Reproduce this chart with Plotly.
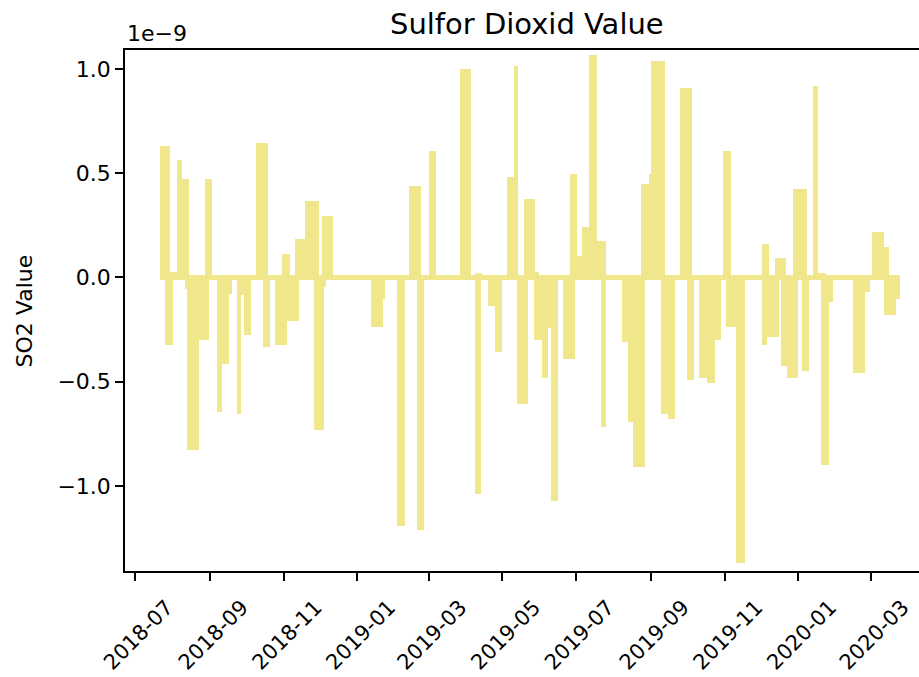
import pandas as pd
import plotly.graph_objects as go

# SO2 readings: each bar covers [bar_start, bar_end) with one value
bar_start = [
    "2018-07-22", "2018-07-22", "2018-07-26", "2018-07-30", "2018-08-01", "2018-08-05",
    "2018-08-09", "2018-08-11", "2018-08-13", "2018-08-15", "2018-08-23", "2018-08-28",
    "2018-08-31", "2018-09-03", "2018-09-07", "2018-09-11", "2018-09-17", "2018-09-19",
    "2018-09-23", "2018-09-27", "2018-09-29", "2018-10-05", "2018-10-09", "2018-10-15",
    "2018-10-19", "2018-10-21", "2018-10-25", "2018-10-31", "2018-11-04", "2018-11-06",
    "2018-11-10", "2018-11-14", "2018-11-19", "2018-11-26", "2018-11-30", "2018-12-03",
    "2018-12-04", "2018-12-06", "2018-12-12", "2019-01-12", "2019-01-22", "2019-01-24",
    "2019-02-03", "2019-02-09", "2019-02-13", "2019-02-19", "2019-02-23", "2019-02-25",
    "2019-03-01", "2019-03-07", "2019-03-27", "2019-04-05", "2019-04-08", "2019-04-08",
    "2019-04-13", "2019-04-14", "2019-04-19", "2019-04-25", "2019-05-01", "2019-05-05",
    "2019-05-11", "2019-05-13", "2019-05-14", "2019-05-19", "2019-05-22", "2019-05-27",
    "2019-05-28", "2019-05-31", "2019-06-03", "2019-06-08", "2019-06-10", "2019-06-16",
    "2019-06-20", "2019-06-26", "2019-06-30", "2019-07-02", "2019-07-06", "2019-07-12",
    "2019-07-18", "2019-07-22", "2019-07-26", "2019-07-26", "2019-08-08", "2019-08-13",
    "2019-08-17", "2019-08-24", "2019-08-27", "2019-08-30", "2019-09-01", "2019-09-09",
    "2019-09-13", "2019-09-15", "2019-09-21", "2019-09-25", "2019-10-01", "2019-10-05",
    "2019-10-07", "2019-10-11", "2019-10-17", "2019-10-24", "2019-10-29", "2019-10-31",
    "2019-11-02", "2019-11-06", "2019-11-10", "2019-11-18", "2019-12-02", "2019-12-02",
    "2019-12-06", "2019-12-08", "2019-12-13", "2019-12-16", "2019-12-18", "2019-12-22",
    "2019-12-23", "2019-12-28", "2020-01-01", "2020-01-04", "2020-01-08", "2020-01-10",
    "2020-01-13", "2020-01-17", "2020-01-20", "2020-01-24", "2020-01-26", "2020-01-30",
    "2020-02-15", "2020-02-25", "2020-02-29", "2020-03-02", "2020-03-12", "2020-03-12",
    "2020-03-16", "2020-03-22",
]
bar_end = [
    "2018-07-30", "2018-07-26", "2018-08-01", "2018-08-05", "2018-08-11", "2018-08-09",
    "2018-08-15", "2018-08-13", "2018-08-23", "2018-08-28", "2018-08-31", "2018-09-03",
    "2018-09-07", "2018-10-09", "2018-09-11", "2018-09-17", "2018-09-19", "2018-09-23",
    "2018-09-27", "2018-09-29", "2018-10-05", "2018-10-15", "2018-10-19", "2018-10-21",
    "2018-10-31", "2018-10-25", "2018-11-04", "2018-11-06", "2018-11-14", "2018-11-10",
    "2018-11-19", "2018-11-26", "2018-11-30", "2018-12-04", "2018-12-03", "2018-12-12",
    "2018-12-06", "2019-01-12", "2019-02-13", "2019-01-22", "2019-01-24", "2019-02-03",
    "2019-02-09", "2019-02-19", "2019-02-23", "2019-02-25", "2019-03-01", "2019-04-08",
    "2019-03-07", "2019-03-27", "2019-04-05", "2019-04-08", "2019-04-14", "2019-04-13",
    "2019-04-19", "2019-05-05", "2019-04-25", "2019-05-01", "2019-05-13", "2019-05-11",
    "2019-05-14", "2019-05-22", "2019-05-19", "2019-05-28", "2019-05-27", "2019-06-03",
    "2019-05-31", "2019-06-26", "2019-06-08", "2019-06-10", "2019-06-16", "2019-06-20",
    "2019-06-30", "2019-07-02", "2019-07-22", "2019-07-06", "2019-07-12", "2019-07-18",
    "2019-07-26", "2019-07-26", "2019-08-24", "2019-08-08", "2019-08-13", "2019-08-17",
    "2019-08-27", "2019-08-30", "2019-09-09", "2019-09-01", "2019-09-13", "2019-09-15",
    "2019-09-25", "2019-09-21", "2019-10-01", "2019-10-05", "2019-10-07", "2019-10-31",
    "2019-10-11", "2019-10-17", "2019-10-24", "2019-10-29", "2019-11-02", "2019-11-06",
    "2019-11-10", "2019-12-02", "2019-11-18", "2019-12-02", "2019-12-08", "2019-12-06",
    "2019-12-16", "2019-12-13", "2019-12-22", "2019-12-18", "2019-12-23", "2019-12-28",
    "2020-01-01", "2020-01-08", "2020-01-04", "2020-01-10", "2020-01-13", "2020-01-20",
    "2020-01-17", "2020-01-24", "2020-01-26", "2020-03-02", "2020-01-30", "2020-02-15",
    "2020-02-25", "2020-02-29", "2020-03-12", "2020-03-12", "2020-03-16", "2020-03-22",
    "2020-03-25", "2020-03-25",
]
so2_value = [
    0.632e-9, -0.011e-9, -0.323e-9, 0.025e-9, -0.011e-9, 0.564e-9,
    0.473e-9, -0.056e-9, -0.829e-9, 0.012e-9, -0.299e-9, 0.473e-9,
    -0.011e-9, 0.012e-9, -0.644e-9, -0.413e-9, -0.080e-9, -0.011e-9,
    -0.655e-9, -0.084e-9, -0.276e-9, -0.011e-9, 0.644e-9, -0.332e-9,
    0.012e-9, -0.011e-9, -0.323e-9, 0.115e-9, -0.207e-9, 0.012e-9,
    0.184e-9, -0.011e-9, 0.367e-9, -0.734e-9, 0.012e-9, 0.297e-9,
    -0.045e-9, -0.011e-9, 0.012e-9, -0.239e-9, -0.102e-9, -0.011e-9,
    -1.195e-9, -0.011e-9, 0.438e-9, -1.210e-9, 0.012e-9, -0.011e-9,
    0.608e-9, 0.012e-9, 1.001e-9, 0.012e-9, 0.022e-9, -1.037e-9,
    -0.011e-9, 0.012e-9, -0.137e-9, -0.356e-9, -0.011e-9, 0.482e-9,
    1.013e-9, -0.607e-9, 0.012e-9, 0.378e-9, -0.011e-9, -0.299e-9,
    0.025e-9, 0.012e-9, -0.483e-9, -0.243e-9, -1.072e-9, -0.011e-9,
    -0.392e-9, 0.495e-9, -0.011e-9, 0.103e-9, 0.240e-9, 1.070e-9,
    0.174e-9, -0.716e-9, 0.012e-9, -0.011e-9, -0.312e-9, -0.693e-9,
    -0.910e-9, 0.449e-9, -0.011e-9, 0.495e-9, 1.037e-9, -0.655e-9,
    0.012e-9, -0.680e-9, -0.011e-9, 0.911e-9, -0.494e-9, 0.012e-9,
    -0.011e-9, -0.483e-9, -0.505e-9, -0.299e-9, -0.011e-9, 0.608e-9,
    -0.239e-9, 0.012e-9, -1.369e-9, -0.011e-9, 0.159e-9, -0.323e-9,
    -0.286e-9, 0.012e-9, 0.093e-9, -0.011e-9, -0.425e-9, 0.012e-9,
    -0.483e-9, 0.425e-9, -0.011e-9, -0.448e-9, 0.012e-9, -0.011e-9,
    0.921e-9, 0.022e-9, -0.898e-9, 0.012e-9, -0.116e-9, -0.011e-9,
    -0.458e-9, -0.069e-9, -0.011e-9, 0.219e-9, 0.146e-9, -0.181e-9,
    0.012e-9, -0.102e-9,
]

x_tick_dates = ["2018-07-01", "2018-09-01", "2018-11-01", "2019-01-01", "2019-03-01",
                "2019-05-01", "2019-07-01", "2019-09-01", "2019-11-01", "2020-01-01",
                "2020-03-01"]
y_tick_vals = [-1.0e-9, -0.5e-9, 0.0, 0.5e-9, 1.0e-9]
y_tick_text = ["\u22121.0", "\u22120.5", "0.0", "0.5", "1.0"]

start = pd.to_datetime(pd.Series(bar_start))
end = pd.to_datetime(pd.Series(bar_end))
centers = start + (end - start) / 2
widths_ms = ((end - start).dt.total_seconds() * 1000).tolist()

FONT = "DejaVu Sans, Verdana, sans-serif"
AXIS_COLOR = "#000000"

fig = go.Figure(
    go.Bar(
        x=centers,
        y=so2_value,
        width=widths_ms,
        marker=dict(color="#F0E68C", line=dict(width=0)),
        hoverinfo="x+y",
    )
)

fig.update_layout(
    width=919,
    height=677,
    margin=dict(l=125, r=0, t=50, b=106),
    paper_bgcolor="white",
    plot_bgcolor="white",
    barmode="overlay",
    bargap=0,
    showlegend=False,
    font=dict(family=FONT, color="#000000"),
)

fig.update_xaxes(
    type="date",
    range=["2018-06-22 15:20", "2020-04-09 21:30"],
    tickvals=x_tick_dates,
    tickformat="%Y-%m",
    tickangle=-45,
    ticklabelshift=32,
    ticklabelstandoff=6,
    ticklabeloverflow="allow",
    tickfont=dict(size=21, family=FONT, color="#000000"),
    ticks="outside",
    ticklen=8,
    tickwidth=1.5,
    tickcolor=AXIS_COLOR,
    showline=True,
    linecolor=AXIS_COLOR,
    linewidth=1.5,
    mirror=True,
    showgrid=False,
    zeroline=False,
)

fig.update_yaxes(
    range=[-1.409e-9, 1.092e-9],
    tickvals=y_tick_vals,
    ticktext=y_tick_text,
    tickfont=dict(size=22, family=FONT, color="#000000"),
    ticks="outside",
    ticklen=8,
    tickwidth=1.5,
    tickcolor=AXIS_COLOR,
    showline=True,
    linecolor=AXIS_COLOR,
    linewidth=1.5,
    mirror=False,
    showgrid=False,
    zeroline=False,
)

fig.add_annotation(
    text="Sulfor Dioxid Value",
    xref="paper", yref="paper", x=0.506, y=1,
    xanchor="center", yanchor="bottom", yshift=7,
    showarrow=False, font=dict(size=29, family=FONT, color="#000000"),
)
fig.add_annotation(
    text="1e\u22129",
    xref="paper", yref="paper", x=0, y=1,
    xanchor="left", yanchor="bottom", yshift=2,
    showarrow=False, font=dict(size=22, family=FONT, color="#000000"),
)
fig.add_annotation(
    text="SO2 Value",
    xref="paper", yref="paper", x=-0.126, y=0.5,
    xanchor="center", yanchor="middle", textangle=-90,
    showarrow=False, font=dict(size=22, family=FONT, color="#000000"),
)

fig.write_html("out.html")
